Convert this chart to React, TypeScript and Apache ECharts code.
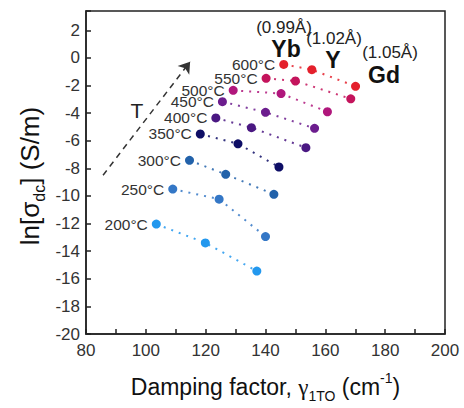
import React, { useEffect, useRef } from 'react';
import * as echarts from 'echarts';

const temps = ['200°C', '250°C', '300°C', '350°C', '400°C', '450°C', '500°C', '550°C', '600°C'];
const gammaYb = [103.5, 109.0, 114.6, 118.2, 123.4, 125.6, 129.2, 140.2, 146.1];
const lnYb = [-12.04, -9.5, -7.42, -5.51, -4.35, -3.17, -2.35, -1.48, -0.47];
const gammaY = [119.9, 124.5, 126.7, 130.8, 135.3, 140.0, 145.2, 150.0, 155.5];
const lnY = [-13.4, -10.23, -8.43, -6.22, -5.05, -3.94, -2.58, -1.67, -0.85];
const gammaGd = [137.1, 140.0, 142.8, 144.5, 153.5, 156.4, 160.7, 168.5, 170.1];
const lnGd = [-15.44, -12.94, -9.88, -7.9, -6.5, -5.1, -3.9, -2.96, -2.06];
const colors = ['#2398ee', '#3477c6', '#2262aa', '#0e0e66', '#4a1882', '#6c1d8e', '#b0177c', '#c4145c', '#e4202c'];
const ions = ['Yb', 'Y', 'Gd'];
const radii = ['(0.99Å)', '(1.02Å)', '(1.05Å)'];
const arrowFrom = [85.7, -8.5];
const arrowTo = [114.8, -0.27];

const FONT = '"Liberation Sans", Arial, sans-serif';

export default function App() {
  const ref = useRef<HTMLDivElement>(null);
  useEffect(() => {
    const chart = echarts.init(ref.current as HTMLDivElement, null, { renderer: 'svg' });
    const series: any[] = temps.map((t, i) => ({
      type: 'line',
      name: t,
      symbol: 'circle',
      symbolSize: 9,
      z: 3,
      itemStyle: { color: colors[i] },
      lineStyle: { color: colors[i], width: 2, type: [2, 6], opacity: 0.85 },
      data: [
        {
          value: [gammaYb[i], lnYb[i]],
          label: {
            show: true,
            position: 'left',
            distance: 4,
            formatter: t,
            fontSize: 15.5,
            color: '#333',
            fontFamily: FONT,
          },
        },
        [gammaY[i], lnY[i]],
        [gammaGd[i], lnGd[i]],
      ],
    }));
    series.push({
      type: 'line',
      name: 'arrow',
      data: [],
      markLine: {
        silent: true,
        symbol: ['none', 'arrow'],
        symbolSize: 11,
        label: { show: false },
        lineStyle: { color: '#333', width: 1.5, type: [6, 5] },
        data: [[{ coord: arrowFrom }, { coord: arrowTo }]],
      },
    });

    const ionPos = [
      [286, 49, 284, 27],
      [333, 60, 334, 38],
      [384, 75, 390, 52],
    ];
    const graphic: any[] = [];
    ions.forEach((name, k) => {
      graphic.push({
        type: 'text',
        x: ionPos[k][0],
        y: ionPos[k][1],
        style: {
          text: name,
          font: `bold 23px ${FONT}`,
          fill: '#111',
          align: 'center',
          verticalAlign: 'middle',
        },
      });
      graphic.push({
        type: 'text',
        x: ionPos[k][2],
        y: ionPos[k][3],
        style: {
          text: radii[k],
          font: `17px ${FONT}`,
          fill: '#222',
          align: 'center',
          verticalAlign: 'middle',
        },
      });
    });
    graphic.push({
      type: 'text',
      x: 137,
      y: 110,
      style: { text: 'T', font: `21px ${FONT}`, fill: '#222', align: 'center', verticalAlign: 'middle' },
    });
    graphic.push({
      type: 'text',
      x: 30,
      y: 176,
      rotation: Math.PI / 2,
      style: {
        text: '{a|ln[σ}{s|dc}{a|] (S/m)}',
        align: 'center',
        verticalAlign: 'middle',
        fill: '#111',
        rich: {
          a: { fontSize: 26, lineHeight: 34, fontFamily: FONT, fill: '#111', color: '#111' },
          s: { fontSize: 16, lineHeight: 15, verticalAlign: 'bottom', fontFamily: FONT, fill: '#111', color: '#111' },
        },
      },
    });

    chart.setOption({
      animation: false,
      backgroundColor: '#fff',
      grid: {
        left: 86,
        top: 11,
        right: 19,
        bottom: 65,
        show: true,
        borderColor: '#222',
        borderWidth: 1.5,
      },
      xAxis: {
        type: 'value',
        min: 80,
        max: 200,
        interval: 20,
        name: '{a|Damping factor, }{g|γ}{s|1TO}{a| (cm}{p|-1}{a|)}',
        nameLocation: 'middle',
        nameGap: 37,
        nameTextStyle: {
          color: '#111',
          rich: {
            a: { fontSize: 23, lineHeight: 32, fontFamily: FONT, color: '#111' },
            g: { fontSize: 23, lineHeight: 32, fontFamily: '"Liberation Serif", serif', color: '#111' },
            s: { fontSize: 14, lineHeight: 14, verticalAlign: 'bottom', fontFamily: FONT, color: '#111' },
            p: { fontSize: 14, lineHeight: 14, verticalAlign: 'top', fontFamily: FONT, color: '#111' },
          },
        },
        axisLine: { onZero: false, lineStyle: { color: '#222', width: 1.5 } },
        axisTick: { inside: true, length: 5, lineStyle: { color: '#222', width: 1.5 } },
        minorTick: { show: true, splitNumber: 2, length: 5, lineStyle: { color: '#222', width: 1.5 } },
        splitLine: { show: false },
        axisLabel: { fontSize: 17, color: '#333', margin: 8, fontFamily: FONT },
      },
      yAxis: {
        type: 'value',
        min: -20,
        max: 3.4,
        interval: 2,
        axisLine: { onZero: false, lineStyle: { color: '#222', width: 1.5 } },
        axisTick: { inside: true, length: 5, lineStyle: { color: '#222', width: 1.5 } },
        splitLine: { show: false },
        axisLabel: {
          fontSize: 17,
          color: '#333',
          margin: 6,
          fontFamily: FONT,
          formatter: (v: number) => (Math.abs(v - Math.round(v)) < 1e-6 ? String(Math.round(v)) : ''),
        },
      },
      series,
      graphic,
    });
    return () => chart.dispose();
  }, []);
  return <div ref={ref} style={{ position: 'fixed', left: 0, top: 0, width: 464, height: 408 }} />;
}
